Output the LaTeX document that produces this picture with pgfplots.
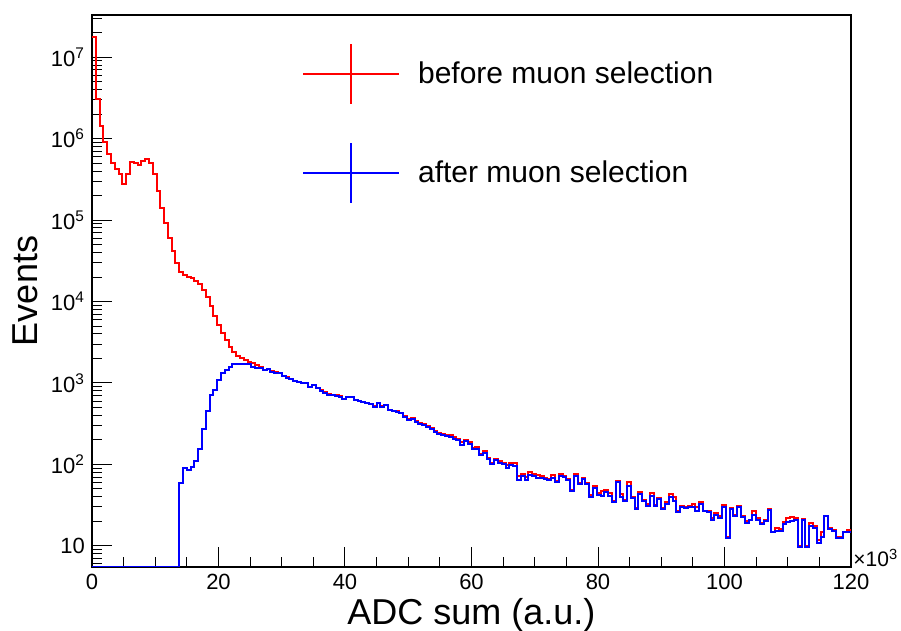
\documentclass[border=0pt]{standalone}
\usepackage{fontspec}
\setmainfont{Liberation Sans}
\usepackage{pgfplots}
\pgfplotsset{compat=1.18}
\usepackage{pgfplotstable}

\pgfplotstableread{
k red blue
0 1.76e7 5.5
1 3.05e6 5.5
2 1.43e6 5.5
3 9.2e5 5.5
4 6.4e5 5.5
5 5.07e5 5.5
6 4.25e5 5.5
7 3.66e5 5.5
8 2.78e5 5.5
9 3.66e5 5.5
10 5.2e5 5.5
11 4.99e5 5.5
12 4.75e5 5.5
13 5.3e5 5.5
14 5.7e5 5.5
15 5.0e5 5.5
16 3.66e5 5.5
17 2.3e5 5.5
18 1.40e5 5.5
19 9.1e4 5.5
20 5.98e4 5.5
21 4.17e4 5.5
22 3.0e4 5.5
23 2.32e4 59.4
24 2.12e4 90.9
25 2.02e4 85
26 1.93e4 93
27 1.80e4 111
28 1.64e4 153
29 1.39e4 269
30 1.13e4 455
31 8800 710
32 6600 818
33 5100 1086
34 4060 1310
35 3370 1440
36 2790 1580
37 2420 1690
38 2140 1700
39 2000 1700
40 1910 1700
41 1820 1690
42 1750 1580
43 1660 1540
44 1560 1510
45 1460 1440
46 1480 1470
47 1390 1373
48 1350 1340
49 1320 1312
50 1230 1216
51 1170 1160
52 1120 1107
53 1070 1064
54 1040 1030
55 1010 1005
56 995 988
57 905 898
58 950 940
59 865 857
60 810 802
61 765 757
62 725 720
63 720 710
64 710 700
65 685 677
66 640 628
67 680 665
68 672 665
69 625 617
70 608 600
71 590 582
72 570 561
73 552 546
74 518 511
75 568 561
76 520 511
77 540 530
78 472 465
79 458 450
80 450 440
81 432 425
82 392 385
83 362 355
84 370 363
85 338 330
86 322 316
87 310 302
88 298 292
89 280 274
90 258 250
91 240 233
92 238 231
93 232 226
94 230 215
95 218 205
96 203 197
97 190 171
98 198 193
99 186 180
100 160 156
101 163 153
102 135 131
103 148 140
104 119 115
105 104 101
106 118 112
107 110 105
108 105 102
109 98 91
110 104 98
111 103 96
112 73 65
113 76 72
114 71 65
115 80 75
116 77 72
117 74 69
118 72 68
119 69 66
120 66 64
121 75 69
122 62 60
123 77 72
124 72 70
125 66 64
126 49 47
127 77 72
128 59 57
129 68 66
130 59 57
131 42 40
132 55 52
133 44 42
134 47 41
135 48 46
136 45 41
137 36 35
138 63 60
139 43 40
140 37 36
141 60 55
142 40 39
143 29 28
144 46 43
145 37 36
146 33 31
147 44 41
148 32 31
149 39 38
150 29 28
151 35 33
152 43 40
153 40 36
154 27 26
155 31 30
156 30 29
157 31 30
158 33 30
159 30 27
160 35 33
161 27 26.6
162 27 26
163 22 21
164 25 24
165 23 22
166 32 30
167 13 12.6
168 29 28
169 24 23
170 31 30
171 23 22.6
172 20 19
173 21 20.5
174 26.6 24
175 22 21
176 19 18.5
177 21 20
178 28.5 27.5
179 15 14.6
180 16.8 15.3
181 16 15.3
182 19.4 18.5
183 22 19.4
184 22.6 20
185 22 20.5
186 10 9.7
187 21.5 20.5
188 10 9.7
189 19 17.6
190 17.5 16.8
191 11.9 10.8
192 14.6 12.9
193 23.5 23
194 16.5 16
195 15.8 15.3
196 13 12.6
197 13 12.6
198 15 14.6
199 15.6 14.6
200 15.6 14.6
}\histtab

\begin{document}
\begin{tikzpicture}
\useasboundingbox (-46pt,-32pt) rectangle (404.5pt,283.5pt);
\begin{axis}[
  name=ax,
  at={(0,0)}, anchor=south west,
  scale only axis, width=379.5pt, height=276pt,
  ymode=log, xmin=0, xmax=120, ymin=5.5, ymax=3.3e7,
  axis line style={line width=0.6pt},
  tick align=inside, xtick pos=left, ytick pos=left,
  xtick={0,20,40,60,80,100,120},
  xticklabels={0,20,40,60,80,100,120},
  minor x tick num=3,
  ytick={10,100,1000,1e4,1e5,1e6,1e7},
  yticklabels={10,10\textsuperscript{2},10\textsuperscript{3},10\textsuperscript{4},10\textsuperscript{5},10\textsuperscript{6},10\textsuperscript{7}},
  minor ytick={6,7,8,9,20,30,40,50,60,70,80,90,200,300,400,500,600,700,800,900,2e3,3e3,4e3,5e3,6e3,7e3,8e3,9e3,2e4,3e4,4e4,5e4,6e4,7e4,8e4,9e4,2e5,3e5,4e5,5e5,6e5,7e5,8e5,9e5,2e6,3e6,4e6,5e6,6e6,7e6,8e6,9e6,2e7,3e7},
  major tick length=10pt, minor tick length=5pt,
  tick style={black, line width=0.5pt},
  tick label style={font=\fontsize{11}{13}\selectfont},
  xlabel={ADC sum (a.u.)}, ylabel={Events},
  label style={font=\fontsize{18}{21}\selectfont},
  xlabel style={at={(axis description cs:0.5,-0.104)}, anchor=base, inner sep=0pt},
  ylabel style={at={(axis description cs:-0.0883,0.5)}, anchor=center},
  legend style={at={(axis description cs:0.2763,0.95)}, anchor=north west,
    draw=none, fill=none, font=\fontsize{15}{18}\selectfont,
    row sep=18.5pt, inner sep=0pt,
    /tikz/every odd column/.append style={column sep=7pt}},
  legend cell align=left,
  legend image code/.code={
    \draw[#1,line width=1pt] (0pt,0pt) -- (48pt,0pt);
    \draw[#1,line width=1pt] (24pt,-15pt) -- (24pt,15pt);},
]
\addplot[const plot, red, line width=1pt, no marks] table[x expr=0.6*\thisrow{k}, y=red] {\histtab};
\addlegendentry{before muon selection}
\addplot[const plot, blue, line width=1pt, no marks] table[x expr=0.6*\thisrow{k}, y=blue] {\histtab};
\addlegendentry{after muon selection}
\end{axis}
\node[anchor=base west, inner sep=0pt, font=\fontsize{10.5}{12}\selectfont, xshift=1pt] at (ax.south east) {×10\textsuperscript{3}};
\end{tikzpicture}
\end{document}
